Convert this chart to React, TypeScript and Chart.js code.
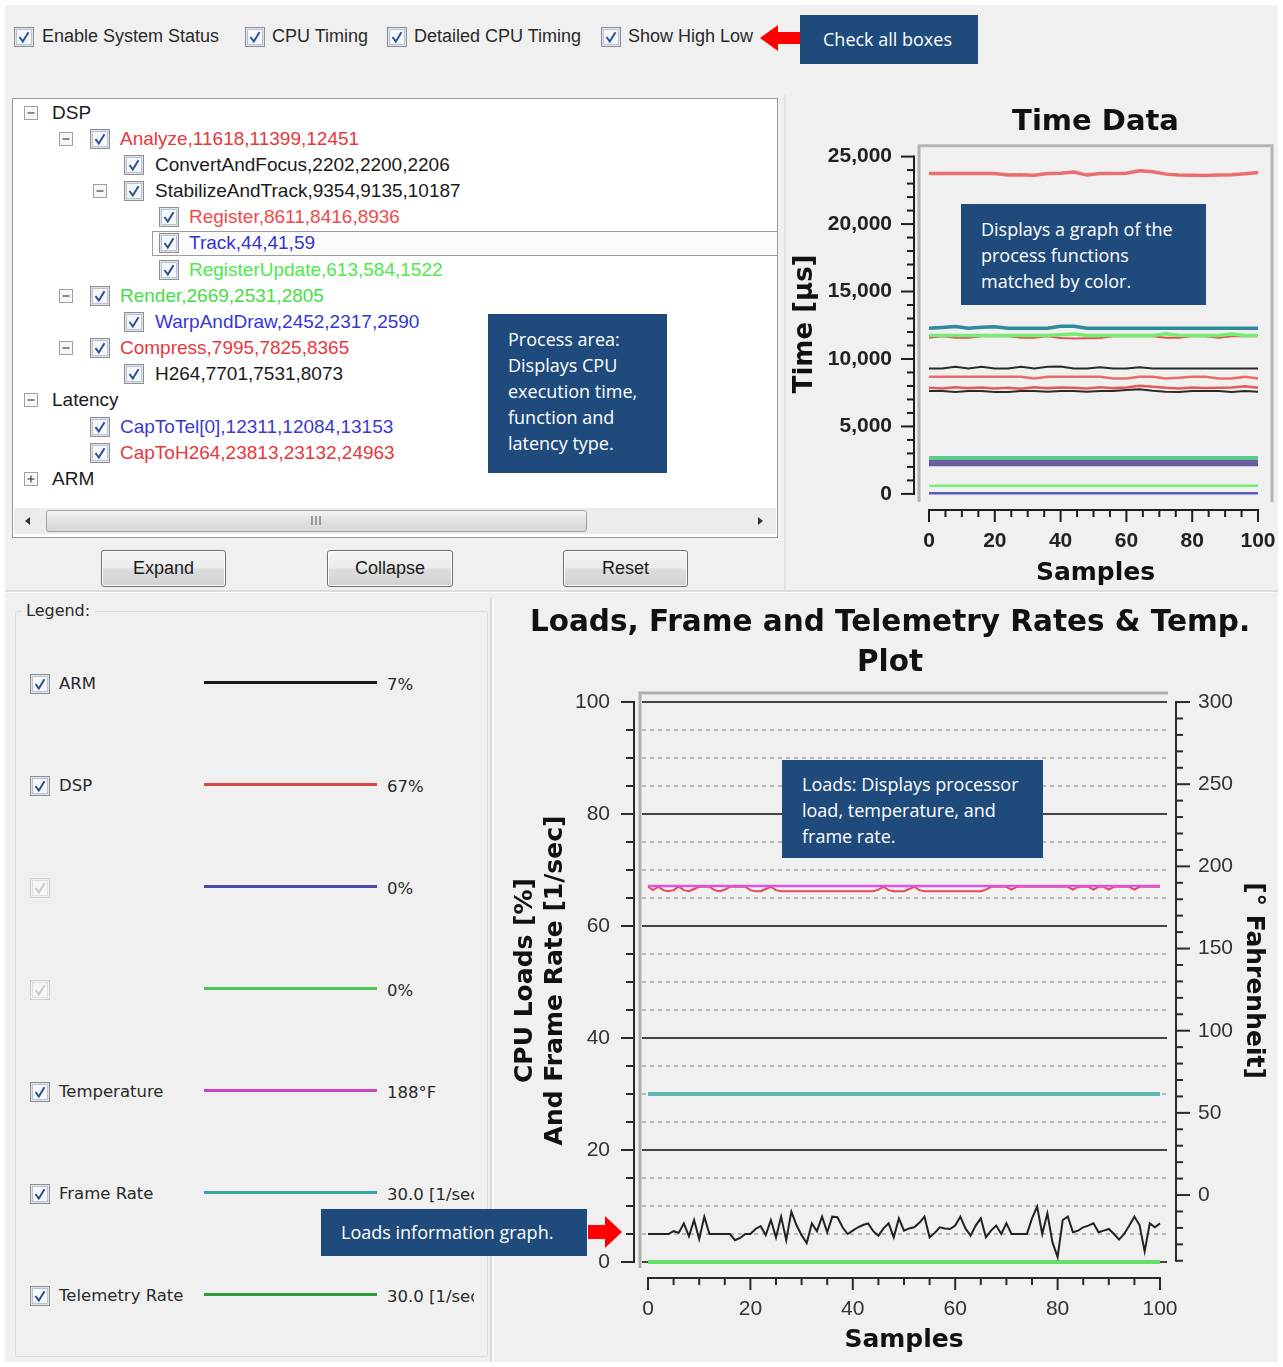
import React, { useEffect, useRef } from 'react';
import { Chart, registerables } from 'chart.js';

Chart.register(...registerables);

const FONT_UI = '"Liberation Sans", Arial, sans-serif';
const FONT_V = '"DejaVu Sans", Verdana, sans-serif';
const FONT_C = '"Open Sans", "Noto Sans", sans-serif';

// ---------------- Time Data chart values ----------------
const TIME_SAMPLES = [0, 4, 8, 12, 16, 20, 24, 28, 32, 36, 40, 44, 48, 52, 56, 60, 64, 68, 72, 76, 80, 84, 88, 92, 96, 100];
const TIME_ENDS = [0, 100];
const SAMPLE_TICKS = [0, 20, 40, 60, 80, 100];
const TIME_TICKS = [0, 5000, 10000, 15000, 20000, 25000];

const capToH264 = [23750, 23750, 23750, 23750, 23750, 23750, 23640, 23660, 23610, 23750, 23760, 23860, 23630, 23750, 23750, 23760, 23950, 23870, 23700, 23640, 23620, 23600, 23630, 23660, 23720, 23820];
const capToTel = [12280, 12330, 12400, 12280, 12350, 12380, 12280, 12280, 12280, 12280, 12420, 12420, 12280, 12280, 12280, 12280, 12280, 12280, 12280, 12280, 12280, 12280, 12280, 12280, 12280, 12280];
const analyzeRange = [11740, 11740, 11740, 11740, 11740, 11740, 11740, 11740, 11740, 11740, 11800, 11860, 11740, 11740, 11740, 11740, 11740, 11740, 11860, 11740, 11740, 11740, 11740, 11850, 11740, 11740];
const analyze = [11570, 11680, 11570, 11570, 11680, 11680, 11680, 11570, 11570, 11680, 11560, 11520, 11540, 11560, 11680, 11680, 11680, 11680, 11570, 11570, 11680, 11680, 11570, 11680, 11680, 11680];
const stabilizeAndTrack = [9290, 9290, 9430, 9300, 9420, 9300, 9290, 9420, 9290, 9430, 9440, 9300, 9290, 9380, 9290, 9290, 9380, 9290, 9290, 9290, 9290, 9290, 9290, 9290, 9290, 9290];
const register = [8680, 8680, 8680, 8680, 8680, 8680, 8680, 8680, 8560, 8680, 8680, 8680, 8680, 8680, 8560, 8560, 8680, 8680, 8560, 8600, 8680, 8680, 8560, 8560, 8680, 8560];
const compress = [7860, 7820, 7900, 7840, 7880, 7820, 7860, 7800, 7900, 7840, 7880, 7860, 7820, 7900, 7840, 7880, 8020, 7940, 7860, 7820, 7880, 7840, 7860, 7880, 7980, 7860];
const h264 = [7620, 7620, 7560, 7620, 7620, 7560, 7560, 7620, 7620, 7580, 7620, 7620, 7580, 7620, 7620, 7700, 7760, 7640, 7580, 7560, 7620, 7620, 7620, 7560, 7620, 7580];
const render = [2669, 2669];
const warpAndDraw = [2452, 2452];
const convertAndFocus = [2202, 2202];
const registerUpdate = [613, 613];
const track = [44, 44];

// ---------------- Loads chart values ----------------
const LOAD_SAMPLES = [
  0, 1, 2, 3, 4, 5, 6, 7, 8, 9, 10, 11, 12, 13, 14, 15, 16, 17, 18, 19,
  20, 21, 22, 23, 24, 25, 26, 27, 28, 29, 30, 31, 32, 33, 34, 35, 36, 37, 38, 39,
  40, 41, 42, 43, 44, 45, 46, 47, 48, 49, 50, 51, 52, 53, 54, 55, 56, 57, 58, 59,
  60, 61, 62, 63, 64, 65, 66, 67, 68, 69, 70, 71, 72, 73, 74, 75, 76, 77, 78, 79,
  80, 81, 82, 83, 84, 85, 86, 87, 88, 89, 90, 91, 92, 93, 94, 95, 96, 97, 98, 99, 100,
];
const LOAD_ENDS = [0, 100];
const LOAD_TICKS = [0, 20, 40, 60, 80, 100];
const TEMP_TICKS = [0, 50, 100, 150, 200, 250, 300];

const armLoad = [
  5, 5, 5, 5, 5, 5.5, 5.2, 6.9, 4.6, 7.5,
  4.1, 8.1, 5, 5, 5, 5, 5, 3.9, 4.3, 5,
  5, 5.9, 6.4, 4.8, 7.5, 4.4, 8.1, 3.9, 9.0, 6.6,
  4.8, 3.4, 6.9, 5.5, 8.1, 5.3, 8.1, 8.0, 6.2, 5.0,
  5.6, 6.2, 6.6, 6.9, 5.5, 4.7, 6.0, 6.9, 4.4, 7.8,
  5.6, 6.0, 6.2, 7.0, 8.1, 4.4, 5.2, 6.2, 6.0, 5.9,
  6.5, 8.1, 6.0, 4.7, 6.5, 7.8, 4.4, 5.6, 6.5, 5.0,
  6.9, 5.0, 5.0, 5.0, 5.0, 7.8, 9.9, 5.0, 8.7, 3.5,
  0.9, 7.5, 8.1, 5.3, 5.6, 6.2, 6.5, 6.9, 5.3, 5.6,
  5.9, 5.0, 4.0, 5.0, 6.5, 8.1, 6.6, 1.9, 6.9, 6.2,
  6.9,
];
const dspLoad = [
  67, 66.4, 67, 66.4, 66.2, 66.4, 67, 66.4, 66.2, 66.6,
  67, 67, 67, 66.4, 66.2, 66.5, 67, 67, 67, 67,
  66.4, 66.2, 66.2, 66.6, 67, 66.4, 66.2, 66.2, 66.2, 66.2,
  66.2, 66.2, 66.2, 66.2, 66.2, 66.2, 66.2, 66.2, 66.2, 66.2,
  66.2, 66.2, 66.2, 66.2, 66.2, 66.5, 67, 66.4, 66.2, 66.2,
  66.2, 66.6, 67, 66.4, 66.2, 66.2, 66.2, 66.2, 66.2, 66.2,
  66.2, 66.2, 66.2, 66.2, 66.2, 66.2, 66.5, 67, 67, 67,
  67, 66.5, 67, 67, 67, 67, 67, 67, 67, 67,
  67, 67, 67, 66.5, 67, 67, 67, 66.5, 67, 67,
  66.5, 67, 67, 67, 67, 66.5, 67, 67, 67, 67,
  67,
];
const temperatureF = [188, 188];
const frameRate = [30, 30];
const telemetryRate = [30, 30];
const load3 = [0, 0];
const load4 = [0, 0];

// ---------------- helpers ----------------
function pts(xs: number[], ys: number[]) {
  return xs.map((x, i) => ({ x, y: ys[i] }));
}
function line(label: string, xs: number[], ys: number[], color: string, width: number, axis = 'y') {
  return {
    label,
    data: pts(xs, ys),
    borderColor: color,
    backgroundColor: color,
    borderWidth: width,
    pointRadius: 0,
    tension: 0,
    fill: false,
    yAxisID: axis,
  };
}

function seg(ctx: any, x1: number, y1: number, x2: number, y2: number) {
  ctx.beginPath();
  ctx.moveTo(x1, y1);
  ctx.lineTo(x2, y2);
  ctx.stroke();
}

const timeDecor = {
  id: 'timeDecor',
  beforeDatasetsDraw(chart: any) {
    const { ctx, chartArea: a } = chart;
    ctx.save();
    ctx.strokeStyle = '#b4b4b4';
    ctx.lineWidth = 3;
    ctx.beginPath();
    ctx.moveTo(a.left, a.bottom);
    ctx.lineTo(a.left, a.top);
    ctx.lineTo(a.right, a.top);
    ctx.lineTo(a.right, a.bottom);
    ctx.stroke();
    ctx.restore();
  },
  afterDraw(chart: any) {
    const { ctx, chartArea: a } = chart;
    const xs = chart.scales.x;
    const ys = chart.scales.y;
    ctx.save();
    ctx.strokeStyle = '#1e1e1e';
    ctx.lineWidth = 2;
    const ax = a.left - 5;
    seg(ctx, ax, ys.getPixelForValue(0) + 1, ax, ys.getPixelForValue(25000) - 1);
    for (let v = 0; v <= 25000; v += 1000) {
      const p = ys.getPixelForValue(v);
      seg(ctx, ax, p, ax - (v % 5000 === 0 ? 13 : 7), p);
    }
    const ay = a.bottom + 8;
    seg(ctx, xs.getPixelForValue(0) - 1, ay, xs.getPixelForValue(100) + 1, ay);
    for (let v = 0; v <= 100; v += 5) {
      const p = xs.getPixelForValue(v);
      seg(ctx, p, ay, p, ay + (v % 20 === 0 ? 12 : 7));
    }
    ctx.restore();
  },
};

const loadsDecor = {
  id: 'loadsDecor',
  beforeDatasetsDraw(chart: any) {
    const { ctx, chartArea: a } = chart;
    const ys = chart.scales.y;
    ctx.save();
    for (let v = 0; v <= 100; v += 5) {
      const p = ys.getPixelForValue(v);
      if (v % 20 === 0) {
        ctx.setLineDash([]);
        ctx.strokeStyle = '#444444';
        ctx.lineWidth = 2;
      } else {
        ctx.setLineDash([4, 4]);
        ctx.strokeStyle = '#ababab';
        ctx.lineWidth = 1.6;
      }
      seg(ctx, a.left + 2, p, a.right - 1, p);
    }
    ctx.setLineDash([]);
    ctx.strokeStyle = '#b0b0b0';
    ctx.lineWidth = 3;
    ctx.beginPath();
    ctx.moveTo(a.left, a.bottom);
    ctx.lineTo(a.left, a.top);
    ctx.lineTo(a.right, a.top);
    ctx.stroke();
    ctx.restore();
  },
  afterDraw(chart: any) {
    const { ctx, chartArea: a } = chart;
    const xs = chart.scales.x;
    const ys = chart.scales.y;
    const y2 = chart.scales.y2;
    ctx.save();
    ctx.strokeStyle = '#2a2a2a';
    ctx.lineWidth = 2;
    const lx = a.left - 6;
    seg(ctx, lx, ys.getPixelForValue(0) + 1, lx, ys.getPixelForValue(100) - 1);
    for (let v = 0; v <= 100; v += 5) {
      const p = ys.getPixelForValue(v);
      seg(ctx, lx, p, lx - (v % 20 === 0 ? 13 : 8), p);
    }
    const rx = a.right + 8;
    seg(ctx, rx, y2.getPixelForValue(-40) + 1, rx, y2.getPixelForValue(300) - 1);
    for (let v = -40; v <= 300; v += 10) {
      const p = y2.getPixelForValue(v);
      seg(ctx, rx, p, rx + (v % 50 === 0 ? 14 : 7), p);
    }
    const by = a.bottom + 10;
    seg(ctx, xs.getPixelForValue(0) - 1, by, xs.getPixelForValue(100) + 1, by);
    for (let v = 0; v <= 100; v += 5) {
      const p = xs.getPixelForValue(v);
      seg(ctx, p, by, p, by + (v % 20 === 0 ? 12 : 7));
    }
    ctx.restore();
  },
};

function makeTimeConfig(): any {
  return {
    type: 'line',
    data: {
      datasets: [
        line('Track', TIME_ENDS, track, '#5a5ac0', 2.5),
        line('RegisterUpdate', TIME_ENDS, registerUpdate, '#78ee78', 2.5),
        line('Render', TIME_ENDS, render, '#5cc98e', 4),
        line('WarpAndDraw', TIME_ENDS, warpAndDraw, '#6a5a9e', 4),
        line('ConvertAndFocus', TIME_ENDS, convertAndFocus, '#6a5a9e', 4),
        line('Compress', TIME_SAMPLES, compress, '#e25a5a', 2.5),
        line('H264', TIME_SAMPLES, h264, '#2a2a2a', 2),
        line('Register', TIME_SAMPLES, register, '#ec6a6a', 2.5),
        line('StabilizeAndTrack', TIME_SAMPLES, stabilizeAndTrack, '#2a2a2a', 2),
        line('Analyze range', TIME_SAMPLES, analyzeRange, '#72ee72', 3.5),
        line('Analyze', TIME_SAMPLES, analyze, '#e0524a', 2),
        line('CapToTel[0]', TIME_SAMPLES, capToTel, '#2d8b9b', 3.5),
        line('CapToH264', TIME_SAMPLES, capToH264, '#ec6d6d', 3.5),
      ],
    },
    options: {
      animation: false,
      responsive: true,
      maintainAspectRatio: false,
      layout: { padding: { left: 0, right: 11, top: 0, bottom: 0 } },
      plugins: {
        legend: { display: false },
        tooltip: { enabled: false },
        title: {
          display: true,
          text: 'Time Data',
          fullSize: false,
          color: '#111',
          font: { family: FONT_V, size: 29, weight: 'bold', lineHeight: 1.2 },
          padding: { top: 10, bottom: 6 },
        },
      },
      scales: {
        x: {
          type: 'linear',
          min: -3.04,
          max: 104.25,
          bounds: 'data',
          grid: { display: false, drawTicks: true, tickLength: 27 },
          border: { display: false },
          afterBuildTicks: (s: any) => {
            s.ticks = SAMPLE_TICKS.map((v) => ({ value: v }));
          },
          afterFit: (s: any) => {
            s.height = 90;
          },
          ticks: {
            padding: 0,
            color: '#222',
            autoSkip: false,
            maxRotation: 0,
            font: { family: FONT_UI, size: 21, weight: 'bold' },
          },
          title: {
            display: true,
            text: 'Samples',
            color: '#111',
            font: { family: FONT_V, size: 25, weight: 'bold', lineHeight: 1.2 },
            padding: { top: 0, bottom: 4 },
          },
        },
        y: {
          type: 'linear',
          min: -600,
          max: 25800,
          bounds: 'data',
          grid: { display: false, drawTicks: false },
          border: { display: false },
          afterBuildTicks: (s: any) => {
            s.ticks = TIME_TICKS.map((v) => ({ value: v }));
          },
          afterFit: (s: any) => {
            s.width = 129;
          },
          ticks: {
            padding: 27,
            color: '#222',
            autoSkip: false,
            font: { family: FONT_UI, size: 21, weight: 'bold' },
            callback: (v: any) => Number(v).toLocaleString('en-US'),
          },
          title: {
            display: true,
            text: 'Time [µs]',
            color: '#111',
            font: { family: FONT_V, size: 26, weight: 'bold', lineHeight: 1.2 },
            padding: { top: 0, bottom: 0 },
          },
        },
      },
    },
    plugins: [timeDecor],
  };
}

function makeLoadsConfig(): any {
  return {
    type: 'line',
    data: {
      datasets: [
        line('Temperature', LOAD_ENDS, temperatureF, '#dd55dd', 2.5, 'y2'),
        line('DSP', LOAD_SAMPLES, dspLoad, '#e2485e', 2),
        line('ARM', LOAD_SAMPLES, armLoad, '#222222', 2),
        line('Load 4', LOAD_ENDS, load4, '#66e066', 4),
        line('Load 3', LOAD_ENDS, load3, '#4a4ab0', 2),
        line('Frame Rate', LOAD_ENDS, frameRate, '#62b6b6', 3.5),
        line('Telemetry Rate', LOAD_ENDS, telemetryRate, '#2e9e3e', 3.5),
      ],
    },
    options: {
      animation: false,
      responsive: true,
      maintainAspectRatio: false,
      layout: { padding: 0 },
      plugins: {
        legend: { display: false },
        tooltip: { enabled: false },
        title: {
          display: true,
          text: ['Loads, Frame and Telemetry Rates & Temp.', 'Plot'],
          color: '#111',
          font: { family: FONT_V, size: 29.5, weight: 'bold', lineHeight: 40 / 29.5 },
          padding: { top: 3, bottom: 10 },
        },
      },
      scales: {
        x: {
          type: 'linear',
          min: -1.56,
          max: 101.56,
          bounds: 'data',
          grid: { display: false, drawTicks: true, tickLength: 29 },
          border: { display: false },
          afterBuildTicks: (s: any) => {
            s.ticks = SAMPLE_TICKS.map((v) => ({ value: v }));
          },
          afterFit: (s: any) => {
            s.height = 97;
          },
          ticks: {
            padding: 0,
            color: '#333',
            autoSkip: false,
            maxRotation: 0,
            font: { family: FONT_UI, size: 21 },
          },
          title: {
            display: true,
            text: 'Samples',
            color: '#111',
            font: { family: FONT_V, size: 25, weight: 'bold', lineHeight: 1.2 },
            padding: { top: 0, bottom: 10 },
          },
        },
        y: {
          type: 'linear',
          position: 'left',
          min: -1.07,
          max: 101.6,
          bounds: 'data',
          grid: { display: false, drawTicks: false },
          border: { display: false },
          afterBuildTicks: (s: any) => {
            s.ticks = LOAD_TICKS.map((v) => ({ value: v }));
          },
          afterFit: (s: any) => {
            s.width = 143;
          },
          ticks: {
            padding: 30,
            color: '#333',
            autoSkip: false,
            font: { family: FONT_UI, size: 21 },
          },
          title: {
            display: true,
            text: ['CPU Loads [%]', 'And Frame Rate [1/sec]'],
            color: '#111',
            font: { family: FONT_V, size: 25, weight: 'bold', lineHeight: 1.2 },
            padding: { top: 13, bottom: 0 },
          },
        },
        y2: {
          type: 'linear',
          position: 'right',
          min: -44.4,
          max: 305.5,
          bounds: 'data',
          grid: { display: false, drawTicks: false },
          border: { display: false },
          afterBuildTicks: (s: any) => {
            s.ticks = TEMP_TICKS.map((v) => ({ value: v }));
          },
          afterFit: (s: any) => {
            s.width = 115;
          },
          ticks: {
            padding: 30,
            color: '#333',
            autoSkip: false,
            font: { family: FONT_UI, size: 21 },
          },
          title: {
            display: true,
            text: '[° Fahrenheit]',
            color: '#111',
            font: { family: FONT_V, size: 25, weight: 'bold', lineHeight: 1.2 },
            padding: { top: 15, bottom: 0 },
          },
        },
      },
    },
    plugins: [loadsDecor],
  };
}

function ChartBox({ left, top, width, height, make }: any) {
  const ref = useRef<HTMLCanvasElement | null>(null);
  useEffect(() => {
    if (!ref.current) return;
    const chart = new Chart(ref.current, make());
    return () => chart.destroy();
  }, [make]);
  return (
    <div style={{ position: 'absolute', left, top, width, height }}>
      <canvas ref={ref} />
    </div>
  );
}

// ---------------- UI widgets ----------------
function Check({ x, y, disabled }: { x: number; y: number; disabled?: boolean }) {
  return (
    <svg style={{ position: 'absolute', left: x, top: y - 10 }} width={20} height={20}>
      <rect x={0.5} y={0.5} width={19} height={19} fill={disabled ? '#f3f3f3' : '#dde3ec'} stroke={disabled ? '#cdcdcd' : '#8e8f8f'} />
      <rect x={2.5} y={2.5} width={15} height={15} fill={disabled ? '#f6f6f6' : '#f4f7fb'} stroke={disabled ? '#dedede' : '#b9c3d3'} />
      <path d="M5.5 10 L8.8 14.5 L14.5 5.2" fill="none" stroke={disabled ? '#c9c9c9' : '#2f4f8f'} strokeWidth={2} />
    </svg>
  );
}

function Expander({ x, y, plus }: { x: number; y: number; plus?: boolean }) {
  return (
    <svg style={{ position: 'absolute', left: x, top: y - 7 }} width={14} height={14}>
      <rect x={0.5} y={0.5} width={13} height={13} fill="#f7f7f7" stroke="#a0a0a0" />
      <path d="M3.5 7 H10.5" stroke="#404040" strokeWidth={1.2} />
      {plus ? <path d="M7 3.5 V10.5" stroke="#404040" strokeWidth={1.2} /> : null}
    </svg>
  );
}

function Txt({ x, y, children, size = 18, color = '#1a1a1a', font = FONT_UI, weight = 400, width }: any) {
  return (
    <div
      style={{
        position: 'absolute',
        left: x,
        top: y - size * 0.7,
        height: size * 1.4,
        lineHeight: `${size * 1.4}px`,
        fontSize: size,
        fontFamily: font,
        color,
        fontWeight: weight,
        whiteSpace: 'nowrap',
        width,
        overflow: width ? 'hidden' : undefined,
      }}
    >
      {children}
    </div>
  );
}

function Button({ x, y, w, h, label }: any) {
  return (
    <div
      style={{
        position: 'absolute',
        left: x,
        top: y,
        width: w,
        height: h,
        border: '1px solid #707070',
        borderRadius: 3,
        boxSizing: 'border-box',
        background: 'linear-gradient(#f4f4f4 0%, #ececec 48%, #dddddd 52%, #d0d0d0 100%)',
        display: 'flex',
        alignItems: 'center',
        justifyContent: 'center',
        fontFamily: FONT_UI,
        fontSize: 18,
        color: '#1a1a1a',
        boxShadow: 'inset 0 0 0 1px #fbfbfb',
      }}
    >
      {label}
    </div>
  );
}

function Callout({ x, y, w, h, pt, pl, lines }: any) {
  return (
    <div
      style={{
        position: 'absolute',
        left: x,
        top: y,
        width: w,
        height: h,
        background: '#1f4a7c',
        color: '#ffffff',
        fontFamily: FONT_C,
        fontSize: 18,
        lineHeight: '26px',
        paddingTop: pt,
        paddingLeft: pl,
        boxSizing: 'border-box',
        whiteSpace: 'nowrap',
        zIndex: 10,
      }}
    >
      {lines.map((l: string, i: number) => (
        <div key={i}>{l}</div>
      ))}
    </div>
  );
}

const TREE = [
  { y: 113, exp: 24, text: 'DSP', tx: 52, color: '#1a1a1a' },
  { y: 139, exp: 59, cb: 90, text: 'Analyze,11618,11399,12451', tx: 120, color: '#e8373c' },
  { y: 165, cb: 124, text: 'ConvertAndFocus,2202,2200,2206', tx: 155, color: '#1a1a1a' },
  { y: 191, exp: 93, cb: 124, text: 'StabilizeAndTrack,9354,9135,10187', tx: 155, color: '#1a1a1a' },
  { y: 217, cb: 159, text: 'Register,8611,8416,8936', tx: 189, color: '#f04a4a' },
  { y: 243, cb: 159, text: 'Track,44,41,59', tx: 189, color: '#3434d4' },
  { y: 270, cb: 159, text: 'RegisterUpdate,613,584,1522', tx: 189, color: '#4ee84e' },
  { y: 296, exp: 59, cb: 90, text: 'Render,2669,2531,2805', tx: 120, color: '#44dd44' },
  { y: 322, cb: 124, text: 'WarpAndDraw,2452,2317,2590', tx: 155, color: '#3636d8' },
  { y: 348, exp: 59, cb: 90, text: 'Compress,7995,7825,8365', tx: 120, color: '#e8373c' },
  { y: 374, cb: 124, text: 'H264,7701,7531,8073', tx: 155, color: '#1a1a1a' },
  { y: 400, exp: 24, text: 'Latency', tx: 52, color: '#1a1a1a' },
  { y: 427, cb: 90, text: 'CapToTel[0],12311,12084,13153', tx: 120, color: '#3a3ad0' },
  { y: 453, cb: 90, text: 'CapToH264,23813,23132,24963', tx: 120, color: '#e8373c' },
  { y: 479, exp: 24, plus: true, text: 'ARM', tx: 52, color: '#1a1a1a' },
];

const LEGEND = [
  { y: 684, label: 'ARM', color: '#1a1a1a', value: '7%' },
  { y: 786, label: 'DSP', color: '#d84848', value: '67%' },
  { y: 888, label: '', color: '#4a4aa8', value: '0%', disabled: true },
  { y: 990, label: '', color: '#52c452', value: '0%', disabled: true },
  { y: 1092, label: 'Temperature', color: '#cc44cc', value: '188°F' },
  { y: 1194, label: 'Frame Rate', color: '#3aa3a3', value: '30.0 [1/sec]' },
  { y: 1296, label: 'Telemetry Rate', color: '#2f9e3a', value: '30.0 [1/sec]' },
];

export default function App() {
  return (
    <div style={{ position: 'absolute', left: 0, top: 0, width: 1283, height: 1367, background: '#ffffff', overflow: 'hidden' }}>
      <div style={{ position: 'absolute', left: 5, top: 5, width: 1273, height: 1357, background: '#f0f0f0' }} />

      {/* top option row */}
      <Check x={14} y={37} />
      <Txt x={42} y={37} color="#2a2a2a">Enable System Status</Txt>
      <Check x={245} y={37} />
      <Txt x={272} y={37} color="#2a2a2a">CPU Timing</Txt>
      <Check x={387} y={37} />
      <Txt x={414} y={37} color="#2a2a2a">Detailed CPU Timing</Txt>
      <Check x={601} y={37} />
      <Txt x={628} y={37} color="#2a2a2a">Show High Low</Txt>

      {/* process tree */}
      <div style={{ position: 'absolute', left: 12, top: 98, width: 766, height: 440, border: '1px solid #9a9a9a', background: '#ffffff', boxSizing: 'border-box' }} />
      <div style={{ position: 'absolute', left: 152, top: 231, width: 626, height: 25, border: '1px solid #9c9c9c', boxSizing: 'border-box', background: '#fbfbfb' }} />
      {TREE.map((r, i) => (
        <React.Fragment key={i}>
          {r.exp !== undefined ? <Expander x={r.exp} y={r.y} plus={r.plus} /> : null}
          {r.cb !== undefined ? <Check x={r.cb} y={r.y} /> : null}
          <Txt x={r.tx} y={r.y} size={19} color={r.color}>{r.text}</Txt>
        </React.Fragment>
      ))}
      {/* scrollbar */}
      <div style={{ position: 'absolute', left: 14, top: 508, width: 762, height: 26, background: '#ececec' }} />
      <svg style={{ position: 'absolute', left: 22, top: 514 }} width={12} height={14}>
        <path d="M8 3 L3 7 L8 11 Z" fill="#333" />
      </svg>
      <svg style={{ position: 'absolute', left: 754, top: 514 }} width={12} height={14}>
        <path d="M4 3 L9 7 L4 11 Z" fill="#333" />
      </svg>
      <div style={{ position: 'absolute', left: 46, top: 510, width: 541, height: 22, border: '1px solid #a0a0a0', borderRadius: 3, boxSizing: 'border-box', background: 'linear-gradient(#f4f4f4, #e2e2e2 50%, #d6d6d6)' }} />
      <svg style={{ position: 'absolute', left: 309, top: 515 }} width={14} height={12}>
        <path d="M3 1 V10 M7 1 V10 M11 1 V10" stroke="#6a6a6a" strokeWidth={1.2} />
      </svg>

      {/* buttons */}
      <Button x={101} y={550} w={125} h={37} label="Expand" />
      <Button x={327} y={550} w={126} h={37} label="Collapse" />
      <Button x={563} y={550} w={125} h={37} label="Reset" />

      {/* separators */}
      <div style={{ position: 'absolute', left: 5, top: 590, width: 1273, height: 2, background: '#dcdcdc' }} />
      <div style={{ position: 'absolute', left: 5, top: 592, width: 1273, height: 1, background: '#fafafa' }} />
      <div style={{ position: 'absolute', left: 784, top: 95, width: 2, height: 495, background: '#e2e2e2' }} />
      <div style={{ position: 'absolute', left: 490, top: 598, width: 2, height: 764, background: '#dcdcdc' }} />
      <div style={{ position: 'absolute', left: 492, top: 598, width: 2, height: 764, background: '#fafafa' }} />

      {/* legend group */}
      <div style={{ position: 'absolute', left: 15, top: 611, width: 473, height: 746, border: '1px solid #d5dde3', borderRadius: 3, boxSizing: 'border-box' }} />
      <div style={{ position: 'absolute', left: 22, top: 600, height: 22, padding: '0 4px', background: '#f0f0f0', fontFamily: FONT_V, fontSize: 16, lineHeight: '22px', color: '#2a2a2a' }}>Legend:</div>
      {LEGEND.map((r, i) => (
        <React.Fragment key={i}>
          <Check x={30} y={r.y} disabled={r.disabled} />
          {r.label ? (
            <Txt x={59} y={r.y} size={16.5} font={FONT_V} color="#2a2a2a">{r.label}</Txt>
          ) : null}
          <div style={{ position: 'absolute', left: 204, top: r.y - 3, width: 173, height: 3, background: r.color }} />
          <Txt x={387} y={r.y + 1} size={16.5} font={FONT_V} color="#2a2a2a" width={87}>{r.value}</Txt>
        </React.Fragment>
      ))}

      {/* charts */}
      <ChartBox left={790} top={95} width={493} height={497} make={makeTimeConfig} />
      <ChartBox left={497} top={600} width={786} height={765} make={makeLoadsConfig} />

      {/* annotations */}
      <Callout x={800} y={15} w={178} h={49} pt={11} pl={23} lines={['Check all boxes']} />
      <Callout x={488} y={314} w={179} h={159} pt={12} pl={20} lines={['Process area:', 'Displays CPU', 'execution time,', 'function and', 'latency type.']} />
      <Callout x={961} y={204} w={245} h={101} pt={12} pl={20} lines={['Displays a graph of the', 'process functions', 'matched by color.']} />
      <Callout x={782} y={760} w={261} h={98} pt={11} pl={20} lines={['Loads: Displays processor', 'load, temperature, and', 'frame rate.']} />
      <Callout x={321} y={1209} w={266} h={47} pt={10} pl={20} lines={['Loads information graph.']} />
      <svg style={{ position: 'absolute', left: 0, top: 0, zIndex: 11 }} width={1283} height={1367} pointerEvents="none">
        <polygon points="760,38 778,25 778,32 800,32 800,44 778,44 778,51" fill="#ff0000" />
        <polygon points="588,1225 605,1225 605,1216 622,1232 605,1248 605,1239 588,1239" fill="#ff0000" />
      </svg>
    </div>
  );
}
